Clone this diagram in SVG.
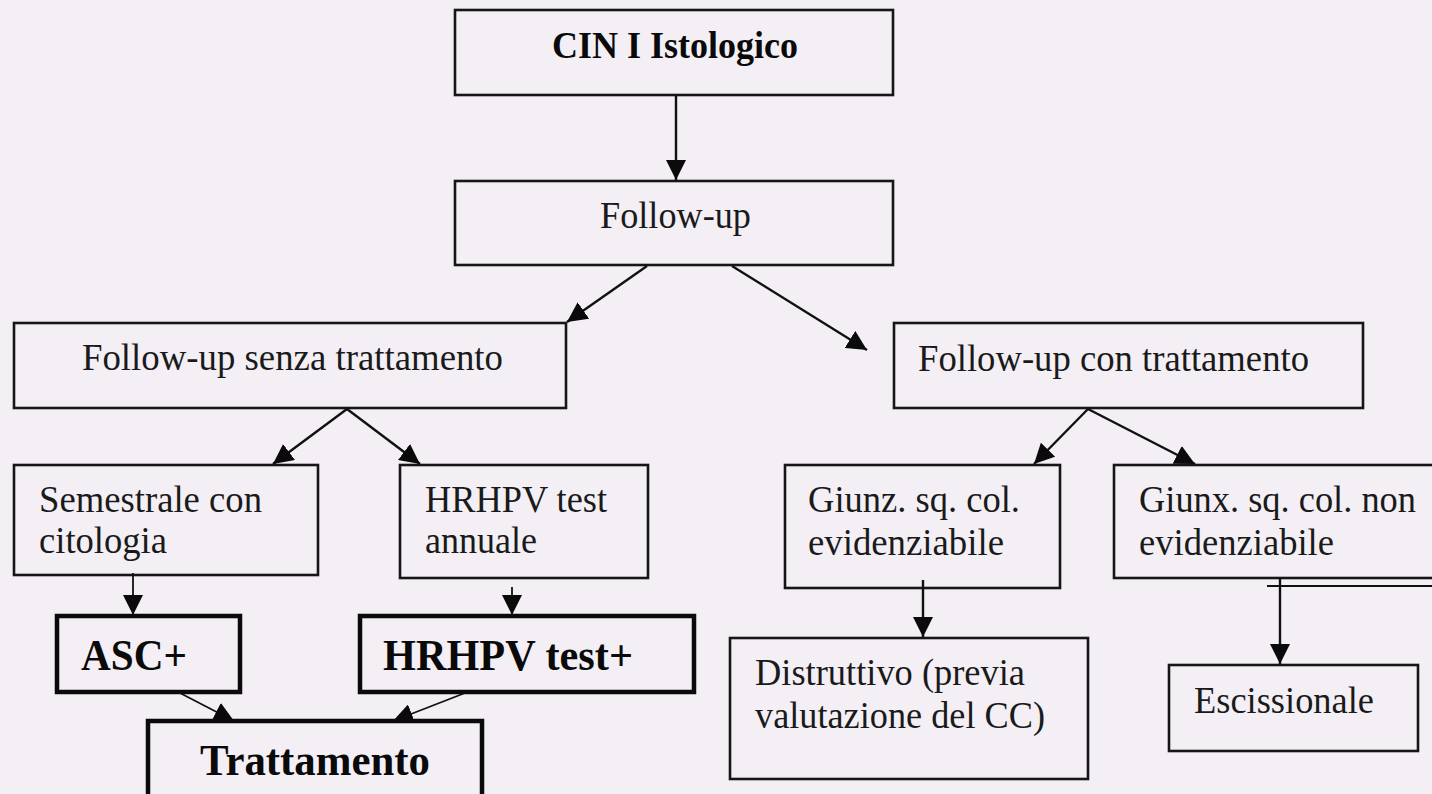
<svg xmlns="http://www.w3.org/2000/svg" width="1432" height="794" viewBox="0 0 1432 794">
<style>
.box{fill:none;stroke:#161616;stroke-width:2.6}
.thick{fill:none;stroke:#0a0a0a;stroke-width:4.5}
.t{font-family:"Liberation Serif","Times New Roman",serif;font-size:38px;fill:#1a1a1a}
.b{font-family:"Liberation Serif","Times New Roman",serif;font-weight:bold;fill:#0a0a0a}
.c{stroke:#111;stroke-width:2.4;fill:none;marker-end:url(#ah)}
.cs{stroke:#111;stroke-width:1.8;fill:none;marker-end:url(#ah)}
</style>
<defs>
<marker id="ah" markerUnits="userSpaceOnUse" markerWidth="20" markerHeight="20" refX="18" refY="9" orient="auto" viewBox="0 0 18 18">
<path d="M0,0 L18,9 L0,18 z" fill="#0a0a0a"/>
</marker>
</defs>
<rect x="0" y="0" width="1432" height="794" fill="#f3eff5"/>

<g id="n-cin">
<rect class="box" x="455" y="10" width="438" height="85"/>
<text class="b" x="552" y="58" font-size="38" textLength="246" lengthAdjust="spacingAndGlyphs">CIN I Istologico</text>
</g>
<g id="n-followup">
<rect class="box" x="455" y="181" width="438" height="84"/>
<text class="t" x="600" y="228" textLength="151" lengthAdjust="spacingAndGlyphs">Follow-up</text>
</g>
<g id="n-senza">
<rect class="box" x="14" y="323" width="552" height="85"/>
<text class="t" x="82" y="370" textLength="421" lengthAdjust="spacingAndGlyphs">Follow-up senza trattamento</text>
</g>
<g id="n-con">
<rect class="box" x="894" y="323" width="469" height="85"/>
<text class="t" x="918" y="371" textLength="391" lengthAdjust="spacingAndGlyphs">Follow-up con trattamento</text>
</g>
<g id="n-semestrale">
<rect class="box" x="14" y="465" width="304" height="110"/>
<text class="t" x="39" y="512" textLength="223" lengthAdjust="spacingAndGlyphs">Semestrale con</text>
<text class="t" x="39" y="553" textLength="128" lengthAdjust="spacingAndGlyphs">citologia</text>
</g>
<g id="n-hrhpv">
<rect class="box" x="400" y="465" width="248" height="113"/>
<text class="t" x="425" y="512" textLength="182" lengthAdjust="spacingAndGlyphs">HRHPV test</text>
<text class="t" x="425" y="553" textLength="112" lengthAdjust="spacingAndGlyphs">annuale</text>
</g>
<g id="n-giunz">
<rect class="box" x="785" y="465" width="275" height="123"/>
<text class="t" x="808" y="512" textLength="212" lengthAdjust="spacingAndGlyphs">Giunz. sq. col.</text>
<text class="t" x="808" y="555" textLength="196" lengthAdjust="spacingAndGlyphs">evidenziabile</text>
</g>
<g id="n-giunx">
<rect class="box" x="1114" y="465" width="330" height="113"/>
<text class="t" x="1139" y="512" textLength="277" lengthAdjust="spacingAndGlyphs">Giunx. sq. col. non</text>
<text class="t" x="1139" y="555" textLength="195" lengthAdjust="spacingAndGlyphs">evidenziabile</text>
</g>
<g id="n-asc">
<rect class="thick" x="57" y="616" width="183" height="76"/>
<text class="b" x="81" y="670" font-size="45" textLength="106" lengthAdjust="spacingAndGlyphs">ASC+</text>
</g>
<g id="n-hrhpvpos">
<rect class="thick" x="360" y="616" width="334" height="76"/>
<text class="b" x="383" y="670" font-size="45" textLength="250" lengthAdjust="spacingAndGlyphs">HRHPV test+</text>
</g>
<g id="n-trattamento">
<rect class="thick" x="148" y="721" width="334" height="90"/>
<text class="b" x="200" y="775" font-size="45" textLength="230" lengthAdjust="spacingAndGlyphs">Trattamento</text>
</g>
<g id="n-distruttivo">
<rect class="box" x="730" y="638" width="358" height="141"/>
<text class="t" x="755" y="685" textLength="270" lengthAdjust="spacingAndGlyphs">Distruttivo (previa</text>
<text class="t" x="755" y="728" textLength="290" lengthAdjust="spacingAndGlyphs">valutazione del CC)</text>
</g>
<g id="n-escissionale">
<rect class="box" x="1169" y="665" width="249" height="86"/>
<text class="t" x="1194" y="713" textLength="180" lengthAdjust="spacingAndGlyphs">Escissionale</text>
</g>

<g id="connectors">
<line class="c" x1="676" y1="95" x2="676" y2="180"/>
<line class="c" x1="647" y1="266" x2="567" y2="322"/>
<line class="c" x1="732" y1="266" x2="867" y2="350"/>
<line class="c" x1="347" y1="409" x2="273" y2="464"/>
<line class="c" x1="347" y1="409" x2="420" y2="464"/>
<line class="c" x1="1088" y1="409" x2="1034" y2="464"/>
<line class="c" x1="1088" y1="409" x2="1195" y2="464"/>
<line class="cs" x1="133" y1="573" x2="133" y2="615"/>
<line class="cs" x1="512" y1="587" x2="512" y2="615"/>
<line class="c" x1="923" y1="580" x2="923" y2="637"/>
<line class="c" x1="1280" y1="578" x2="1280" y2="664"/>
<line stroke="#111" stroke-width="1.8" x1="1267" y1="586" x2="1432" y2="586"/>
<line class="cs" x1="180" y1="693" x2="234" y2="721"/>
<line class="cs" x1="465" y1="693" x2="393" y2="721"/>
</g>
</svg>
